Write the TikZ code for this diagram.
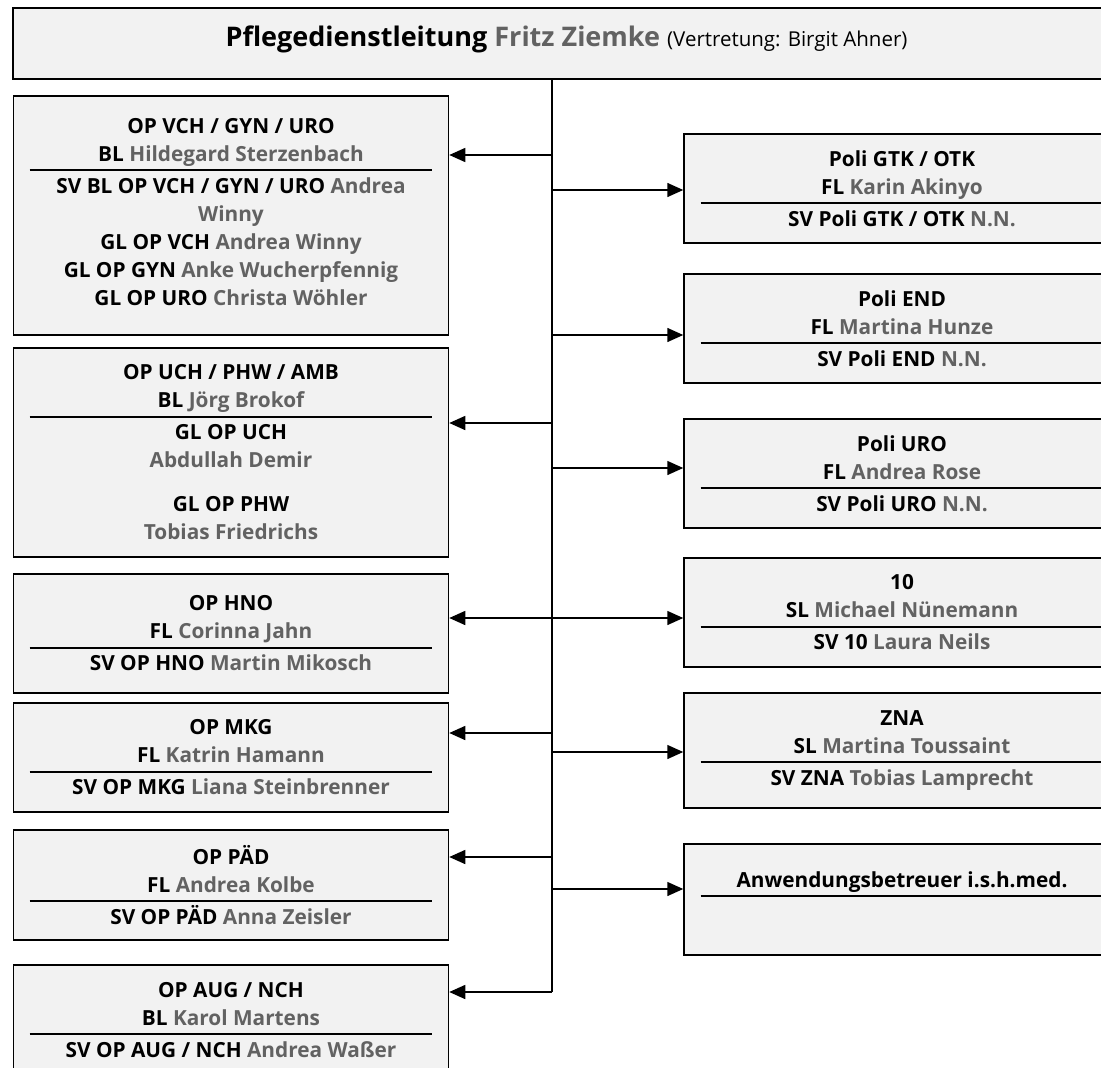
\documentclass[tikz,border=0pt]{standalone}
\usepackage{fontspec}
\setmainfont{Open Sans}
\usetikzlibrary{arrows.meta}
\definecolor{boxgray}{RGB}{242,242,242}
\definecolor{namegray}{RGB}{98,98,98}
\tikzstyle{unit} = [draw=black, fill=boxgray, line width=1.5pt, rectangle, align=center, inner sep=0pt, font=\bfseries\fontsize{20.8}{28}\selectfont]
\tikzstyle{lunit} = [unit, minimum width=435pt]
\tikzstyle{runit} = [unit, minimum width=436pt]
\tikzstyle{link} = [line width=1.5pt, -{Triangle[length=16pt,width=14pt]}]
\newcommand{\nm}[1]{\textcolor{namegray}{#1}}
\newcommand{\sep}{\\[-18pt]\rule{403pt}{2pt}\\[-6pt]}

\begin{document}
\begin{tikzpicture}[x=1pt,y=-1pt]
\useasboundingbox (0,0) rectangle (1101,1068);
\clip (0,0) rectangle (1101,1068);
\node[unit, minimum width=1107pt, minimum height=71pt, text depth=14pt, font=\bfseries\fontsize{27}{34}\selectfont] (pdl) at (566.5,43.5) {Pflegedienstleitung \nm{Fritz Ziemke} {\mdseries\fontsize{20.5}{34}\selectfont (Vertretung: Birgit Ahner)}};
% left column
\node[lunit, minimum height=239pt] (vch) at (231,215.5) {OP VCH / GYN / URO\\BL \nm{Hildegard Sterzenbach}\sep SV BL OP VCH / GYN / URO \nm{Andrea}\\\nm{Winny}\\GL OP VCH \nm{Andrea Winny}\\GL OP GYN \nm{Anke Wucherpfennig}\\GL OP URO \nm{Christa Wöhler}\\[-20pt]\mbox{}};
\node[lunit, minimum height=209pt] (uch) at (231,452.5) {OP UCH / PHW / AMB\\BL \nm{Jörg Brokof}\sep GL OP UCH\\\nm{Abdullah Demir}\\[16pt]GL OP PHW\\\nm{Tobias Friedrichs}};
\node[lunit, minimum height=119pt] (hno) at (231,633.5) {OP HNO\\FL \nm{Corinna Jahn}\sep SV OP HNO \nm{Martin Mikosch}};
\node[lunit, minimum height=109pt] (mkg) at (231,757.5) {OP MKG\\FL \nm{Katrin Hamann}\sep SV OP MKG \nm{Liana Steinbrenner}};
\node[lunit, minimum height=110pt] (pad) at (231,885) {OP PÄD\\FL \nm{Andrea Kolbe}\sep SV OP PÄD \nm{Anna Zeisler}};
\node[lunit, minimum height=110pt] (aug) at (231,1020) {OP AUG / NCH\\BL \nm{Karol Martens}\sep SV OP AUG / NCH \nm{Andrea Waßer}};
% right column
\node[runit, minimum height=109pt] (gtk) at (902,188.5) {Poli GTK / OTK\\FL \nm{Karin Akinyo}\sep SV Poli GTK / OTK \nm{N.N.}};
\node[runit, minimum height=109pt] (pend) at (902,328.5) {Poli END\\FL \nm{Martina Hunze}\sep SV Poli END \nm{N.N.}};
\node[runit, minimum height=109pt] (puro) at (902,473.5) {Poli URO\\FL \nm{Andrea Rose}\sep SV Poli URO \nm{N.N.}};
\node[runit, minimum height=109pt] (ten) at (902,612.5) {10\\SL \nm{Michael Nünemann}\sep SV 10 \nm{Laura Neils}};
\node[runit, minimum height=115pt] (zna) at (902,750.5) {ZNA\\SL \nm{Martina Toussaint}\sep SV ZNA \nm{Tobias Lamprecht}};
\node[runit, minimum height=111pt] (anw) at (902,899.5) {Anwendungsbetreuer i.s.h.med.\\[-18pt]\rule{403pt}{2pt}\\[2pt]\mbox{}};
% connectors
\foreach \y/\n in {155/vch,423/uch,618/hno,733/mkg,857/pad,992/aug}{
  \coordinate (b\n) at (552,\y);
  \draw[link] (b\n) -- (b\n -| \n.east);
}
\foreach \y/\n in {190/gtk,335/pend,468/puro,618/ten,752/zna,889/anw}{
  \coordinate (b\n) at (552,\y);
  \draw[link] (b\n) -- (b\n -| \n.west);
}
\draw[line width=1.5pt] (pdl.south -| bvch) -- (baug);
\end{tikzpicture}
\end{document}
